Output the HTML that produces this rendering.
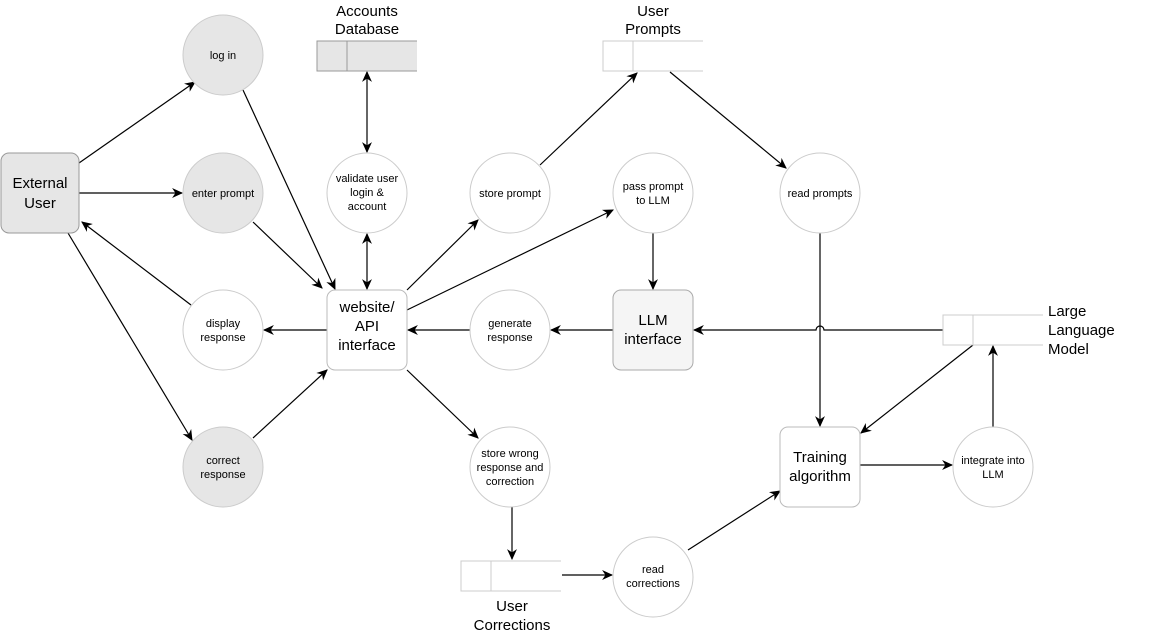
<!DOCTYPE html>
<html><head><meta charset="utf-8"><style>
html,body{margin:0;padding:0;background:#fff;}
svg{display:block;font-family:"Liberation Sans",sans-serif;}
</style></head><body>
<svg width="1151" height="634" viewBox="0 0 1151 634" xmlns="http://www.w3.org/2000/svg">
<defs>
<marker id="a" viewBox="0 0 10 10" refX="9" refY="5" markerWidth="11" markerHeight="11" orient="auto-start-reverse" markerUnits="userSpaceOnUse">
<path d="M0,0.5 L10,5 L0,9.5 L3,5 z" fill="#000"/></marker>
</defs>
<g stroke="#000" stroke-width="1.2" fill="none">
<line x1="79" y1="163" x2="195" y2="82" marker-end="url(#a)"/>
<line x1="79" y1="193" x2="182" y2="193" marker-end="url(#a)"/>
<line x1="191" y1="305" x2="82" y2="222" marker-end="url(#a)"/>
<line x1="68" y1="233" x2="192" y2="440" marker-end="url(#a)"/>
<line x1="243" y1="90" x2="335" y2="289" marker-end="url(#a)"/>
<line x1="253" y1="222" x2="322" y2="288" marker-end="url(#a)"/>
<line x1="327" y1="330" x2="264" y2="330" marker-end="url(#a)"/>
<line x1="253" y1="438" x2="327" y2="370" marker-end="url(#a)"/>
<line x1="367" y1="234" x2="367" y2="289" marker-start="url(#a)" marker-end="url(#a)"/>
<line x1="367" y1="152" x2="367" y2="72" marker-start="url(#a)" marker-end="url(#a)"/>
<line x1="407" y1="290" x2="478" y2="220" marker-end="url(#a)"/>
<line x1="407" y1="310" x2="613" y2="210" marker-end="url(#a)"/>
<line x1="540" y1="165" x2="637" y2="73" marker-end="url(#a)"/>
<line x1="670" y1="72" x2="786" y2="168" marker-end="url(#a)"/>
<line x1="653" y1="233" x2="653" y2="289" marker-end="url(#a)"/>
<line x1="613" y1="330" x2="551" y2="330" marker-end="url(#a)"/>
<line x1="470" y1="330" x2="408" y2="330" marker-end="url(#a)"/>
<path d="M943,330 L824,330 A4,4 0 0 0 816,330 L694,330" marker-end="url(#a)"/>
<line x1="820" y1="233" x2="820" y2="426" marker-end="url(#a)"/>
<line x1="407" y1="370" x2="478" y2="438" marker-end="url(#a)"/>
<line x1="512" y1="507" x2="512" y2="559" marker-end="url(#a)"/>
<line x1="562" y1="575" x2="612" y2="575" marker-end="url(#a)"/>
<line x1="688" y1="550" x2="780" y2="491" marker-end="url(#a)"/>
<line x1="860" y1="465" x2="952" y2="465" marker-end="url(#a)"/>
<line x1="993" y1="427" x2="993" y2="346" marker-end="url(#a)"/>
<line x1="973" y1="345" x2="861" y2="433" marker-end="url(#a)"/>
</g>
<g stroke-width="1">
<path d="M417,41 H317 V71 H417" fill="#e6e6e6" stroke="#999"/>
<line x1="347" y1="41" x2="347" y2="71" stroke="#999"/>
<path d="M703,41 H603 V71 H703" fill="#fff" stroke="#ccc"/>
<line x1="633" y1="41" x2="633" y2="71" stroke="#ccc"/>
<path d="M1043,315 H943 V345 H1043" fill="#fff" stroke="#ccc"/>
<line x1="973" y1="315" x2="973" y2="345" stroke="#ccc"/>
<path d="M561,561 H461 V591 H561" fill="#fff" stroke="#ccc"/>
<line x1="491" y1="561" x2="491" y2="591" stroke="#ccc"/>
</g>
<g stroke="#ccc" stroke-width="1">
<circle cx="223" cy="55" r="40" fill="#e6e6e6"/>
<circle cx="223" cy="193" r="40" fill="#e6e6e6"/>
<circle cx="223" cy="330" r="40" fill="#fff"/>
<circle cx="223" cy="467" r="40" fill="#e6e6e6"/>
<circle cx="367" cy="193" r="40" fill="#fff"/>
<circle cx="510" cy="193" r="40" fill="#fff"/>
<circle cx="653" cy="193" r="40" fill="#fff"/>
<circle cx="820" cy="193" r="40" fill="#fff"/>
<circle cx="510" cy="330" r="40" fill="#fff"/>
<circle cx="510" cy="467" r="40" fill="#fff"/>
<circle cx="653" cy="577" r="40" fill="#fff"/>
<circle cx="993" cy="467" r="40" fill="#fff"/>
</g>
<g stroke="#999" stroke-width="1">
<rect x="1" y="153" width="78" height="80" rx="8" fill="#e6e6e6"/>
<rect x="327" y="290" width="80" height="80" rx="8" fill="#fff" stroke="#bbb"/>
<rect x="613" y="290" width="80" height="80" rx="8" fill="#f5f5f5" stroke="#aaa"/>
<rect x="780" y="427" width="80" height="80" rx="8" fill="#fff" stroke="#bbb"/>
</g>
<g font-size="11" text-anchor="middle" fill="#000">
<text x="223" y="59">log in</text>
<text x="223" y="197">enter prompt</text>
<text x="223" y="327">display</text><text x="223" y="341">response</text>
<text x="223" y="464">correct</text><text x="223" y="478">response</text>
<text x="367" y="182">validate user</text><text x="367" y="196">login &amp;</text><text x="367" y="210">account</text>
<text x="510" y="197">store prompt</text>
<text x="653" y="190">pass prompt</text><text x="653" y="204">to LLM</text>
<text x="820" y="197">read prompts</text>
<text x="510" y="327">generate</text><text x="510" y="341">response</text>
<text x="510" y="457">store wrong</text><text x="510" y="471">response and</text><text x="510" y="485">correction</text>
<text x="653" y="573">read</text><text x="653" y="587">corrections</text>
<text x="993" y="464">integrate into</text><text x="993" y="478">LLM</text>
</g>
<g font-size="15" text-anchor="middle" fill="#000">
<text x="40" y="188">External</text><text x="40" y="208">User</text>
<text x="367" y="312">website/</text><text x="367" y="331">API</text><text x="367" y="350">interface</text>
<text x="653" y="325">LLM</text><text x="653" y="344">interface</text>
<text x="820" y="462">Training</text><text x="820" y="481">algorithm</text>
<text x="367" y="16">Accounts</text><text x="367" y="34">Database</text>
<text x="653" y="16">User</text><text x="653" y="34">Prompts</text>
<text x="512" y="611">User</text><text x="512" y="630">Corrections</text>
</g>
<g font-size="15" fill="#000">
<text x="1048" y="316">Large</text><text x="1048" y="335">Language</text><text x="1048" y="354">Model</text>
</g>
</svg>
</body></html>
